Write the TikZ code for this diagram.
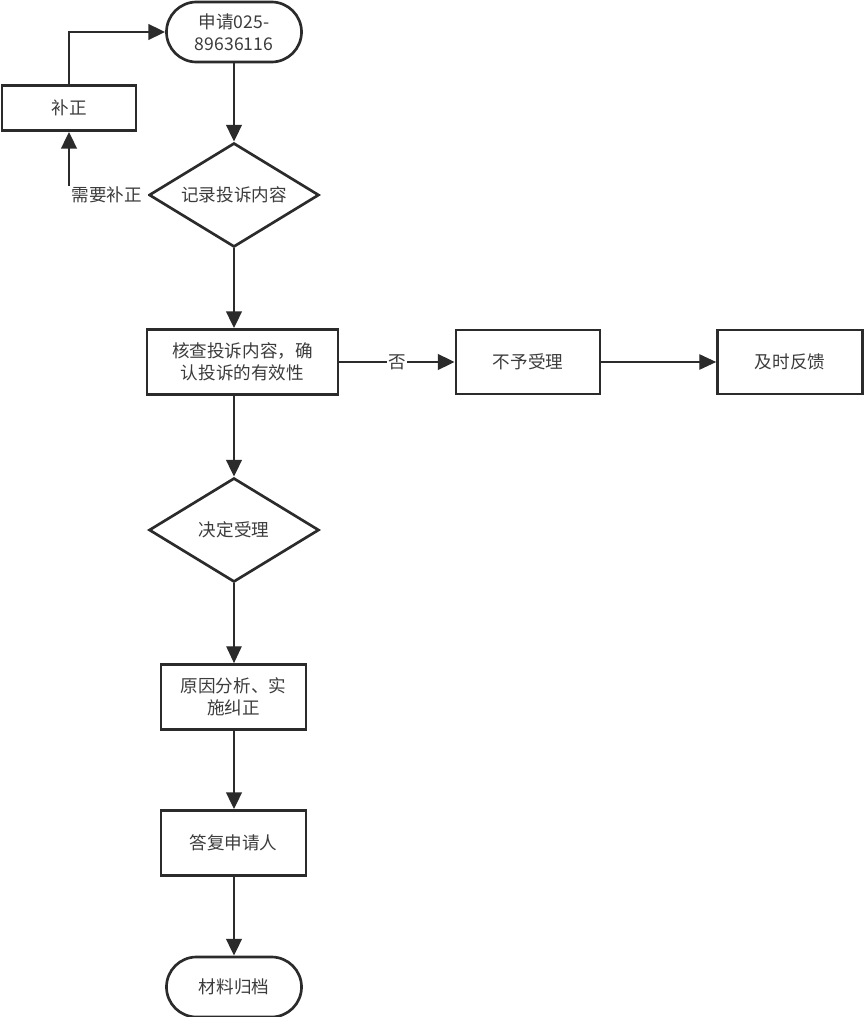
\documentclass[tikz,border=0pt]{standalone}
\usepackage{fontspec}
\setmainfont{Noto Sans CJK SC}
\usetikzlibrary{shapes.geometric,arrows.meta}
\definecolor{ink}{HTML}{2B2B2B}
\definecolor{txt}{HTML}{3C3C3C}
\tikzset{
  box/.style={draw=ink,line width=1.9pt,rectangle,minimum height=1.6cm,
    minimum width=3.6cm,align=center},
  pill/.style={draw=ink,line width=1.9pt,rectangle,rounded corners=0.75cm,
    minimum width=3.375cm,minimum height=1.5cm,align=center},
  choice/.style={draw=ink,line width=1.9pt,diamond,shape aspect=1.63,
    minimum width=4.25cm,minimum height=2.6cm,inner sep=0pt},
  flow/.style={draw=ink,line width=2.1pt,-{Triangle[length=12pt,width=11pt]}},
  thinflow/.style={draw=ink,line width=0.9pt,-{Triangle[length=12pt,width=11pt]}},
  tag/.style={fill=white,inner sep=1pt}
}
\begin{document}
\begin{tikzpicture}[x=0.025cm,y=-0.025cm,
  every node/.style={text=txt,font=\fontsize{12.5}{16}\selectfont}]
\useasboundingbox (0,0) rectangle (864,1017);
\node[pill] (apply) at (234,32) {申请025-\\89636116};
\node[box,minimum width=3.35cm,minimum height=1.125cm] (fix) at (69,108) {补正};
\node[choice] (record) at (234,195) {记录投诉内容};
\node[box,minimum width=4.775cm,minimum height=1.625cm] (check) at (242.5,362) {核查投诉内容，确\\认投诉的有效性};
\node[box] (reject) at (528,362) {不予受理};
\node[box,minimum width=3.625cm] (reply) at (790,362) {及时反馈};
\node[choice] (accept) at (234,530) {决定受理};
\node[box,minimum width=3.625cm,minimum height=1.625cm] (cause) at (233.5,697) {原因分析、实\\施纠正};
\node[box,minimum width=3.625cm,minimum height=1.625cm] (answer) at (233.5,843) {答复申请人};
\node[pill] (archive) at (234,987) {材料归档};
\draw[flow] (apply)--(record);
\draw[flow] (record.west) -| node[tag,pos=0.26,inner xsep=4pt] {需要补正} (fix.south);
\draw[flow] (fix.north) |- (apply.west);
\draw[flow] (record.south) -- (record.south |- check.north);
\draw[flow] (check.east |- reject.west) -- node[tag] {否} (reject.west);
\draw[thinflow] (reject)--(reply);
\draw[flow] (record.south |- check.south) -- (accept.north);
\draw[thinflow] (accept.south) -- (accept.south |- cause.north);
\draw[flow] (accept.south |- cause.south) -- (accept.south |- answer.north);
\draw[flow] (accept.south |- answer.south) -- (archive.north);
\end{tikzpicture}
\end{document}
